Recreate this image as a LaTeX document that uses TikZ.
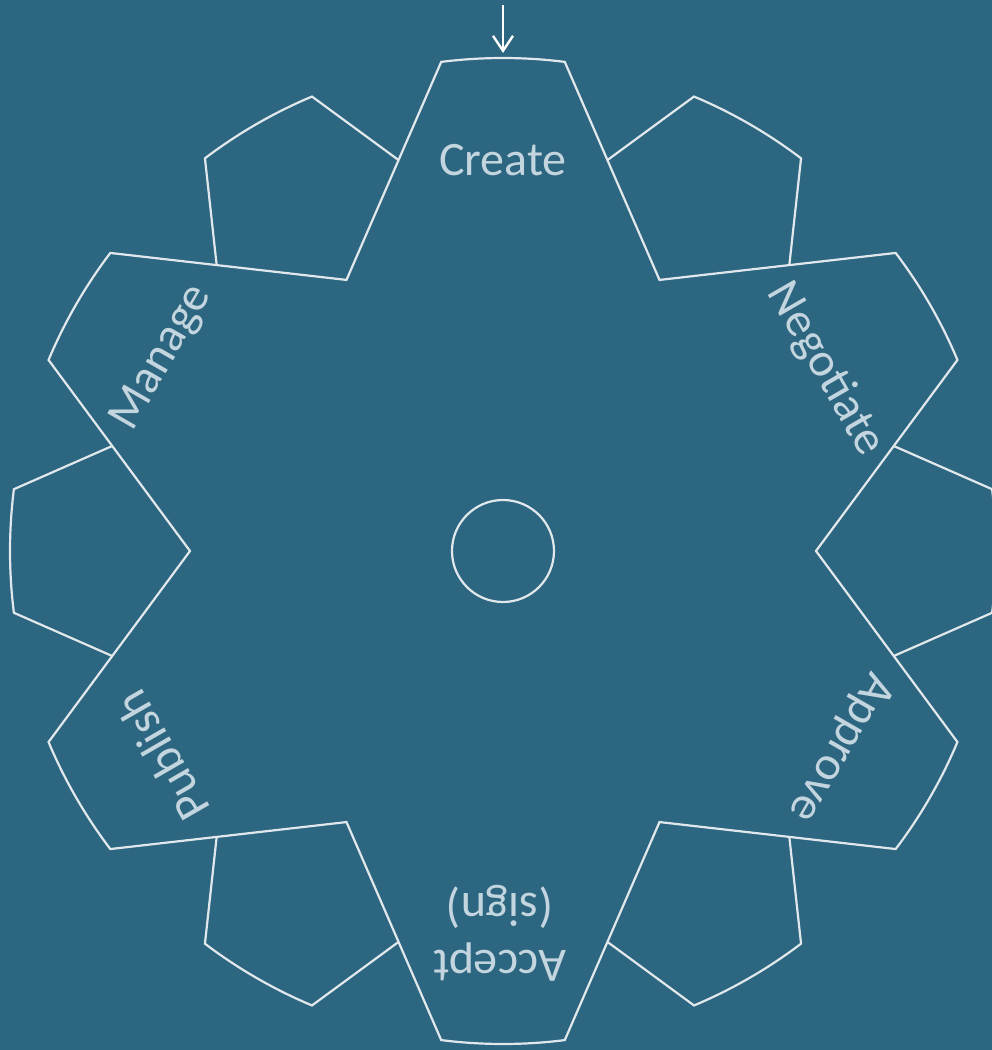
\documentclass[tikz,border=0pt]{standalone}
\usepackage{fontspec}
\setmainfont{Carlito}
\usetikzlibrary{arrows.meta}
\definecolor{bgc}{HTML}{2D6680}
\definecolor{linec}{HTML}{E0E8EC}
\definecolor{textc}{HTML}{C3D5DE}
\begin{document}
\begin{tikzpicture}[x=1pt,y=1pt,
  gearline/.style={draw=linec, line width=2.2pt, line join=miter},
  lbl/.style={text=textc, font=\fontsize{48}{57}\selectfont, align=center, inner sep=0pt}]
\fill[bgc] (-503,-499) rectangle (489,551);
\useasboundingbox (-503,-499) rectangle (489,551);
\clip (-503,-499) rectangle (489,551);
% big teeth outline
\draw[gearline] (120:313pt)
  \foreach \t in {90,30,-30,-90,-150,150} {
    -- ({\t+7.2}:493pt) arc[start angle={\t+7.2}, end angle={\t-7.2}, radius=493pt] -- ({\t-30}:313pt)
  } -- cycle;
% small pentagon teeth
\foreach \p in {60,0,-60,-120,180,120} {
  \draw[gearline] ({\p+15}:405pt) -- ({\p+7.2}:493pt)
    arc[start angle={\p+7.2}, end angle={\p-7.2}, radius=493pt] -- ({\p-15}:405pt);
}
% hub
\node[circle, draw=linec, line width=2.2pt, minimum size=102pt, inner sep=0pt] (hub) at (0,0) {};
% labels
\node[lbl, rotate=0] (create) at (90:391pt) {Create};
\node[lbl, rotate=-60] (negotiate) at (29.4:370pt) {Negotiate};
\node[lbl, rotate=-120] (approve) at (-30.2:390pt) {Approve};
\node[lbl, rotate=180] (accept) at (-90.5:382pt) {Accept\\(sign)};
\node[lbl, rotate=120] (publish) at (-149:398pt) {Publish};
\node[lbl, rotate=60] (manage) at (150.5:392pt) {Manage};
% start arrow
\coordinate (arrtop) at (0,546);
\coordinate (arrtip) at (0,498);
\draw[draw=white, line width=2.4pt, -{Straight Barb[length=15pt,width=20pt]}] (arrtop) -- (arrtip);
\end{tikzpicture}
\end{document}
